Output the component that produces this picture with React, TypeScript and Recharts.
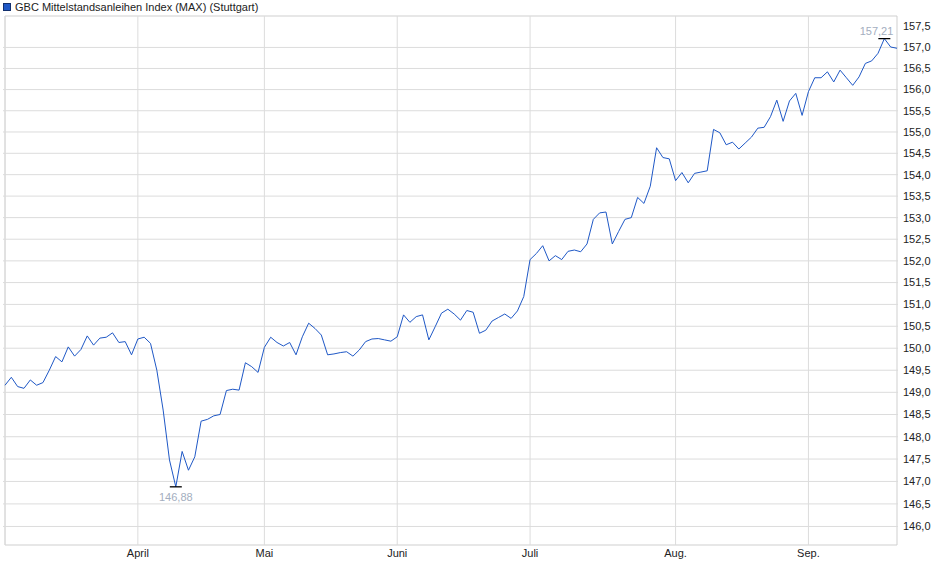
import React from 'react';
import {
  LineChart,
  Line,
  XAxis,
  YAxis,
  ReferenceLine,
  ReferenceArea,
} from 'recharts';

// trading days (2025), one list per month
const marchDays = [3, 4, 5, 6, 7, 10, 11, 12, 13, 14, 17, 18, 19, 20, 21, 24, 25, 26, 27, 28, 31];
const aprilDays = [1, 2, 3, 4, 7, 8, 9, 10, 11, 14, 15, 16, 17, 22, 23, 24, 25, 28, 29, 30];
const mayDays = [2, 5, 6, 7, 8, 9, 12, 13, 14, 15, 16, 19, 20, 21, 22, 23, 26, 27, 28, 29, 30];
const juneDays = [2, 3, 4, 5, 6, 9, 10, 11, 12, 13, 16, 17, 18, 19, 20, 23, 24, 25, 26, 27, 30];
const julyDays = [1, 2, 3, 4, 7, 8, 9, 10, 11, 14, 15, 16, 17, 18, 21, 22, 23, 24, 25, 28, 29, 30, 31];
const augDays = [1, 4, 5, 6, 7, 8, 11, 12, 13, 14, 15, 18, 19, 20, 21, 22, 25, 26, 27, 28, 29];
const sepDays = [1, 2, 3, 4, 5, 8, 9, 10, 11, 12, 15, 16, 17, 18, 19];

const marchValues = [
  149.16, 149.34, 149.13, 149.09, 149.28, 149.16, 149.22, 149.5, 149.81, 149.69, 150.03,
  149.82, 149.97, 150.28, 150.07, 150.23, 150.25, 150.35, 150.13, 150.15, 149.85,
];
const aprilValues = [
  150.21, 150.25, 150.11, 149.5, 148.6, 147.48, 146.88, 147.67, 147.25, 147.55, 148.35,
  148.39, 148.47, 148.5, 149.04, 149.07, 149.05, 149.67, 149.58, 149.45,
];
const mayValues = [
  150.02, 150.25, 150.13, 150.05, 150.13, 149.85, 150.26, 150.57, 150.45, 150.3, 149.85,
  149.87, 149.9, 149.92, 149.82, 149.96, 150.15, 150.21, 150.22, 150.19, 150.16,
];
const juneValues = [
  150.26, 150.76, 150.59, 150.72, 150.76, 150.19, 150.49, 150.8, 150.89, 150.78, 150.64,
  150.86, 150.82, 150.34, 150.41, 150.62, 150.7, 150.78, 150.68, 150.85, 151.18,
];
const julyValues = [
  152.03, 152.17, 152.35, 152.0, 152.12, 152.03, 152.22, 152.25, 152.21, 152.39, 152.96,
  153.11, 153.13, 152.39, 152.68, 152.96, 153.0, 153.47, 153.33, 153.73, 154.63, 154.4, 154.37,
];
const augValues = [
  153.86, 154.05, 153.81, 154.03, 154.06, 154.09, 155.06, 154.98, 154.7, 154.76, 154.6,
  154.74, 154.88, 155.09, 155.11, 155.36, 155.75, 155.25, 155.73, 155.91, 155.39,
];
const sepValues = [
  155.95, 156.28, 156.28, 156.42, 156.18, 156.46, 156.28, 156.1, 156.3, 156.62, 156.68,
  156.86, 157.21, 157.01, 156.98,
];

const months = [
  { month: '03', days: marchDays, values: marchValues, label: '' },
  { month: '04', days: aprilDays, values: aprilValues, label: 'April' },
  { month: '05', days: mayDays, values: mayValues, label: 'Mai' },
  { month: '06', days: juneDays, values: juneValues, label: 'Juni' },
  { month: '07', days: julyDays, values: julyValues, label: 'Juli' },
  { month: '08', days: augDays, values: augValues, label: 'Aug.' },
  { month: '09', days: sepDays, values: sepValues, label: 'Sep.' },
];

const yTicks = [
  146.0, 146.5, 147.0, 147.5, 148.0, 148.5, 149.0, 149.5, 150.0, 150.5, 151.0, 151.5,
  152.0, 152.5, 153.0, 153.5, 154.0, 154.5, 155.0, 155.5, 156.0, 156.5, 157.0, 157.5,
];
const yMin = 145.59;
const yMax = 157.75;

const title = 'GBC Mittelstandsanleihen Index (MAX) (Stuttgart)';

const data = months.flatMap((m) =>
  m.days.map((d, i) => ({
    date: `2025-${m.month}-${String(d).padStart(2, '0')}`,
    value: m.values[i],
  }))
);

const monthStart: Record<string, string> = {};
months.forEach((m) => {
  if (m.label) monthStart[`2025-${m.month}-${String(m.days[0]).padStart(2, '0')}`] = m.label;
});

const values = data.map((p) => p.value);
const minIdx = values.indexOf(Math.min(...values));
const maxIdx = values.indexOf(Math.max(...values));

const fmt = (v: number, digits: number) => v.toFixed(digits).replace('.', ',');

const FONT = '"Liberation Sans", Arial, sans-serif';
const GRID = '#dcdcdc';
const LINE = '#1f58c6';

const ExtremeDot = (props: any) => {
  const { cx, cy, index } = props;
  if (index !== minIdx && index !== maxIdx) return <g key={`d${index}`} />;
  const isMax = index === maxIdx;
  return (
    <g key={`d${index}`}>
      <line x1={cx - 6} x2={cx + 6} y1={cy} y2={cy} stroke="#000" strokeWidth={1.3} />
      <text
        x={isMax ? cx + 9 : cx}
        y={isMax ? cy - 4 : cy + 14}
        textAnchor={isMax ? 'end' : 'middle'}
        fontSize={11}
        fontFamily={FONT}
        fill="#a3aec0"
      >
        {fmt(values[index], 2)}
      </text>
    </g>
  );
};

const App: React.FC = () => {
  return (
    <div style={{ position: 'absolute', left: 0, top: 0, width: 940, height: 579, background: '#fff' }}>
      <div
        style={{
          position: 'absolute',
          left: 3,
          top: 0,
          fontFamily: FONT,
          fontSize: 11,
          color: '#222',
          display: 'flex',
          alignItems: 'center',
          height: 13,
          zIndex: 2,
        }}
      >
        <span
          style={{
            display: 'inline-block',
            width: 6,
            height: 6,
            background: LINE,
            border: '1px solid #12306e',
            marginRight: 4,
          }}
        />
        {title}
      </div>
      <LineChart width={940} height={579} data={data} margin={{ top: 16, right: 0, bottom: 0, left: 3 }}>
        <XAxis
          dataKey="date"
          height={34}
          interval={0}
          padding={{ left: 2, right: 1 }}
          tickFormatter={(d: string) => monthStart[d] ?? ''}
          tickLine={false}
          axisLine={false}
          tickSize={0}
          tickMargin={4}
          tick={{ fontSize: 11, fontFamily: FONT, fill: '#222' }}
        />
        <YAxis
          orientation="right"
          width={42}
          scale="log"
          domain={[yMin, yMax]}
          allowDataOverflow
          ticks={yTicks}
          interval={0}
          tickFormatter={(v: number) => fmt(v, 1)}
          tickLine={false}
          axisLine={false}
          tickSize={0}
          tickMargin={5}
          tick={{ fontSize: 11, fontFamily: FONT, fill: '#222', textAnchor: 'start' }}
        />
        {yTicks
          .filter((t) => t < 157.5)
          .map((t) => (
            <ReferenceLine key={`h${t}`} y={t} stroke={GRID} strokeWidth={1} />
          ))}
        <ReferenceLine x={data[0].date} stroke={GRID} strokeWidth={1} />
        {Object.keys(monthStart).map((d) => (
          <ReferenceLine key={`v${d}`} x={d} stroke={GRID} strokeWidth={1} />
        ))}
        <ReferenceArea y1={yMin} y2={yMax} fill="none" stroke="#cfcfcf" strokeWidth={1} />
        <Line
          type="linear"
          dataKey="value"
          stroke={LINE}
          strokeWidth={1}
          dot={ExtremeDot}
          activeDot={false}
          isAnimationActive={false}
        />
      </LineChart>
    </div>
  );
};

export default App;
